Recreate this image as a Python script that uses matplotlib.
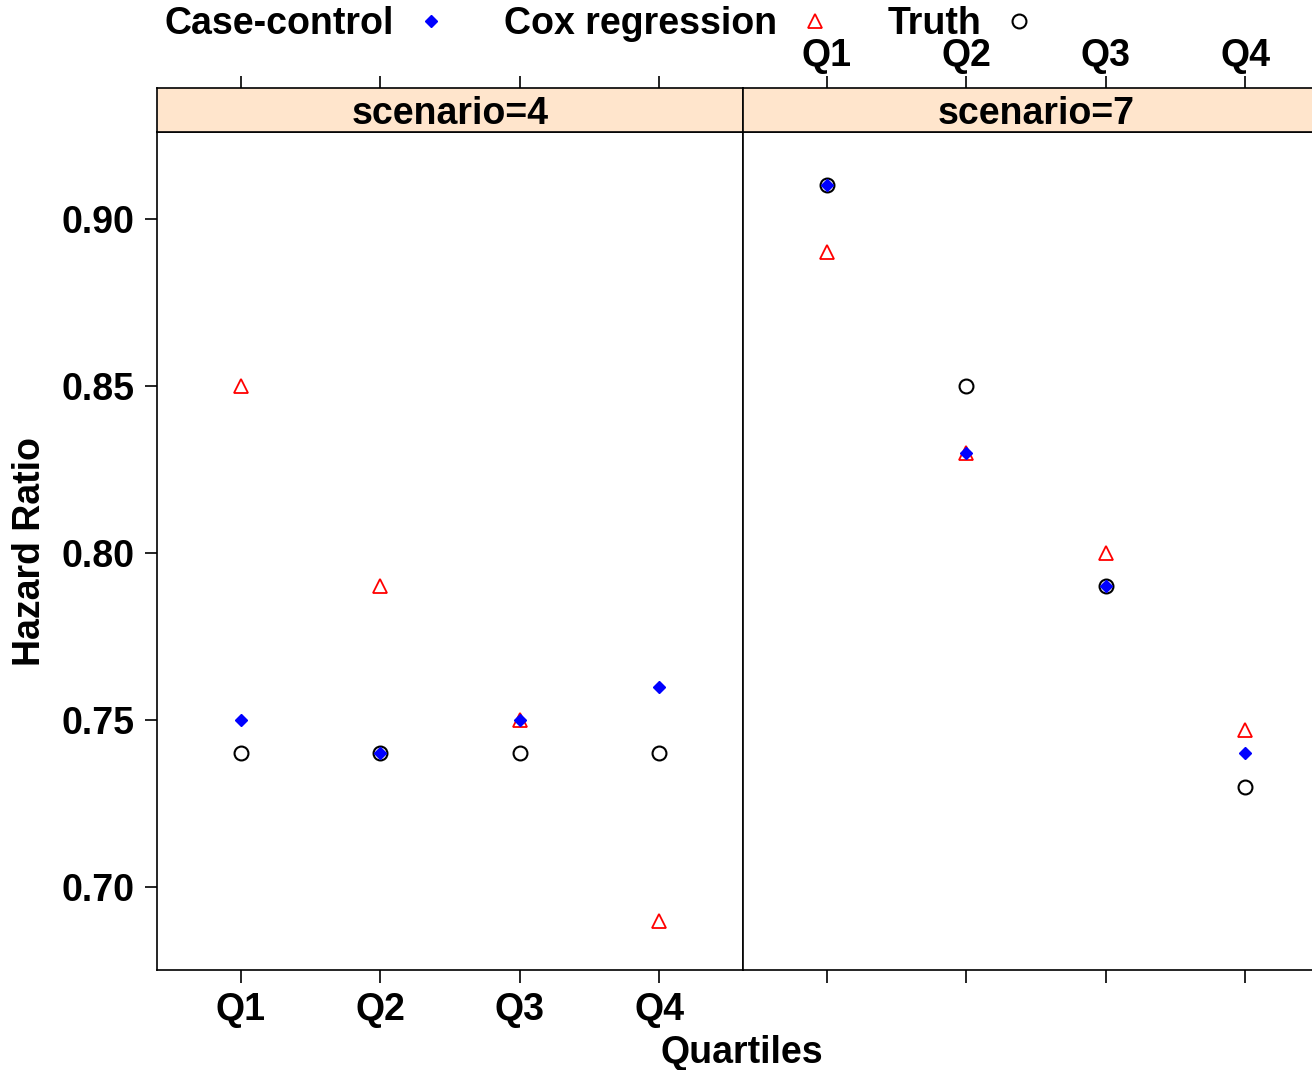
import matplotlib
matplotlib.use('Agg')
import matplotlib.pyplot as plt
from matplotlib.lines import Line2D

plt.rcParams['font.family'] = ['Liberation Sans', 'DejaVu Sans']
plt.rcParams['font.weight'] = 'bold'

quartiles = ['Q1', 'Q2', 'Q3', 'Q4']
scenarios = ['scenario=4', 'scenario=7']

case_control = {
    'scenario=4': [0.75, 0.74, 0.75, 0.76],
    'scenario=7': [0.91, 0.83, 0.79, 0.74],
}
cox = {
    'scenario=4': [0.85, 0.79, 0.75, 0.69],
    'scenario=7': [0.89, 0.83, 0.80, 0.747],
}
truth = {
    'scenario=4': [0.74, 0.74, 0.74, 0.74],
    'scenario=7': [0.91, 0.85, 0.79, 0.73],
}

FS = 27
W, H = 1312, 1070
fig = plt.figure(figsize=(W / 100, H / 100), dpi=100)


def px(x0, y0, x1, y1):
    # pixel box -> figure fraction rect
    return [x0 / W, 1 - y1 / H, (x1 - x0) / W, (y1 - y0) / H]


xs = range(1, 5)
panel_w = 586
for i, sc in enumerate(scenarios):
    x0 = 157 + i * panel_w
    ax = fig.add_axes(px(x0, 132, x0 + panel_w, 970))
    strip = fig.add_axes(px(x0, 88, x0 + panel_w, 132))

    ax.plot(xs, truth[sc], 'o', ms=10, mfc='none', mec='black', mew=1.5)
    ax.plot(xs, cox[sc], '^', ms=10, mfc='none', mec='red', mew=1.3)
    ax.plot(xs, case_control[sc], 'D', ms=6.5, mfc='blue', mec='blue')

    ax.set_xlim(0.4, 4.6)
    ax.set_ylim(0.6752, 0.9260)
    ax.set_xticks(list(xs))
    ax.tick_params(direction='out', length=9, width=1.2, labelsize=FS, pad=7)
    if i == 0:
        ax.set_xticklabels(quartiles)
        ax.set_yticks([0.70, 0.75, 0.80, 0.85, 0.90])
        ax.set_yticklabels(['0.70', '0.75', '0.80', '0.85', '0.90'])
    else:
        ax.set_xticklabels([])
        ax.set_yticks([])
    for s in ax.spines.values():
        s.set_linewidth(1.2)

    strip.set_facecolor('#ffe5cc')
    strip.set_xlim(0.4, 4.6)
    strip.set_ylim(0, 1)
    strip.set_yticks([])
    strip.xaxis.tick_top()
    strip.set_xticks(list(xs))
    strip.tick_params(direction='out', length=9, width=1.2, labelsize=FS, pad=1)
    if i == 1:
        strip.set_xticklabels(quartiles)
    else:
        strip.set_xticklabels([])
    for s in strip.spines.values():
        s.set_linewidth(1.2)
    strip.text(0.5, 0.42, sc, transform=strip.transAxes, ha='center', va='center',
               fontsize=FS, fontweight='bold')

fig.text(30 / W, 1 - 551 / H, 'Hazard Ratio', rotation=90, ha='center', va='center',
         fontsize=FS, fontweight='bold')
fig.text(742 / W, 1 - 1053 / H, 'Quartiles', ha='center', va='center',
         fontsize=FS, fontweight='bold')

handles = [
    Line2D([], [], ls='none', marker='D', ms=6, mfc='blue', mec='blue'),
    Line2D([], [], ls='none', marker='^', ms=10, mfc='none', mec='red', mew=1.3),
    Line2D([], [], ls='none', marker='o', ms=10, mfc='none', mec='black', mew=1.5),
]
fig.legend(handles, ['Case-control', 'Cox regression', 'Truth'], ncol=3,
           markerfirst=False, frameon=False, loc='center',
           bbox_to_anchor=(601 / W, 1 - 24 / H), fontsize=FS,
           handlelength=1.0, handletextpad=0.5, columnspacing=1.45,
           borderpad=0, borderaxespad=0)

fig.savefig('out.png', dpi=100)
